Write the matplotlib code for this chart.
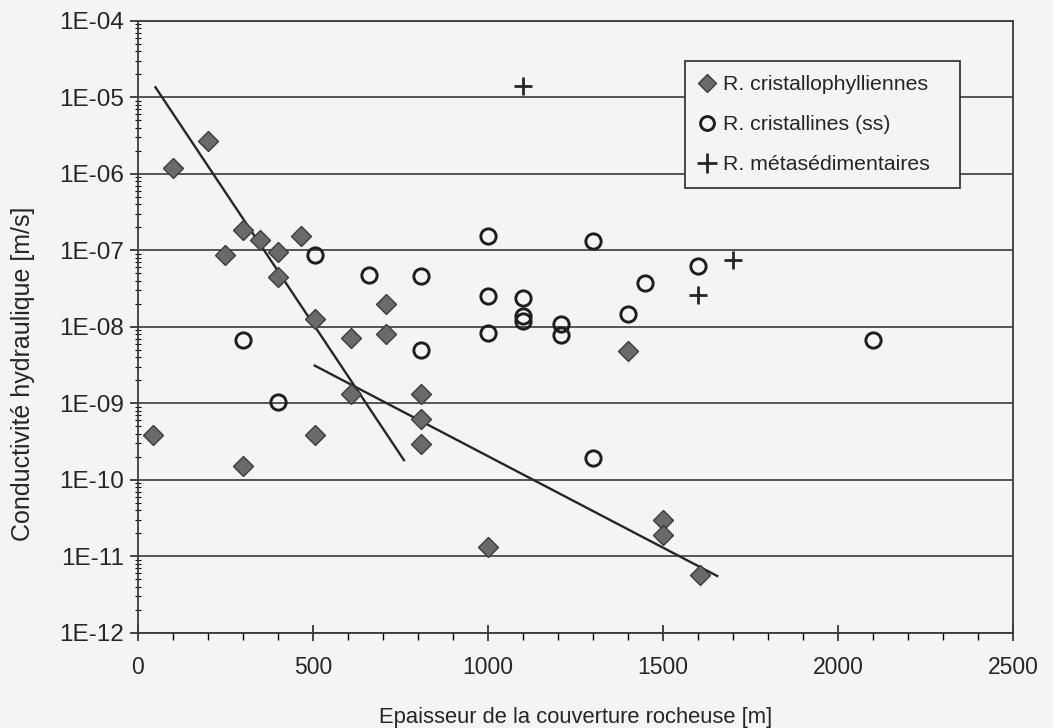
import matplotlib
matplotlib.use("Agg")
import matplotlib.pyplot as plt
import numpy as np
from matplotlib.ticker import FuncFormatter, LogLocator, MultipleLocator, NullFormatter
from matplotlib.lines import Line2D

plt.rcParams['font.family'] = ['Liberation Sans', 'DejaVu Sans']

# R. cristallophylliennes (diamonds)
crist_x = [42, 100, 200, 250, 300, 300, 350, 400, 400, 465, 505, 505,
           610, 610, 710, 710, 810, 810, 810, 1000, 1400, 1500, 1500, 1605]
crist_y = [3.8e-10, 1.2e-6, 2.7e-6, 8.6e-8, 1.85e-7, 1.5e-10, 1.35e-7, 9.5e-8, 4.5e-8, 1.55e-7, 1.25e-8, 3.8e-10,
           7.2e-9, 1.3e-9, 2.0e-8, 8.0e-9, 1.3e-9, 6.3e-10, 2.9e-10, 1.3e-11, 4.8e-9, 3.0e-11, 1.9e-11, 5.7e-12]

# R. cristallines (ss) (open circles)
cristss_x = [300, 400, 505, 660, 810, 810, 1000, 1000, 1000, 1100, 1100, 1100,
             1210, 1210, 1300, 1300, 1400, 1450, 1600, 2100]
cristss_y = [6.8e-9, 1.05e-9, 8.6e-8, 4.8e-8, 4.6e-8, 4.9e-9, 1.55e-7, 2.5e-8, 8.2e-9, 2.4e-8, 1.4e-8, 1.2e-8,
             1.07e-8, 7.8e-9, 1.33e-7, 1.9e-10, 1.48e-8, 3.7e-8, 6.3e-8, 6.7e-9]

# R. metasedimentaires (plus)
meta_x = [1100, 1700, 1600]
meta_y = [1.4e-5, 7.4e-8, 2.6e-8]

# trend lines (end points)
fit1_x = [50, 760]
fit1_y = [1.35e-5, 1.8e-10]
fit2_x = [505, 1655]
fit2_y = [3.1e-9, 5.5e-12]

bg = '#f4f4f2'
ink = '#262626'
fig = plt.figure(figsize=(10.53, 7.28), dpi=100, facecolor=bg)
ax = fig.add_axes([0.131, 0.131, 0.831, 0.8405])
ax.set_facecolor(bg)

ax.set_yscale('log')
ax.set_xlim(0, 2500)
ax.set_ylim(1e-12, 1e-4)

# horizontal grid at each decade
ax.yaxis.set_major_locator(LogLocator(base=10, numticks=20))
ax.yaxis.set_minor_locator(LogLocator(base=10, subs=np.arange(2, 10), numticks=20))
ax.yaxis.set_minor_formatter(NullFormatter())
ax.yaxis.set_major_formatter(FuncFormatter(lambda v, p: "1E{:03d}".format(int(round(np.log10(v))))))
ax.grid(True, axis='y', which='major', color='#555555', lw=1.4)
ax.set_axisbelow(True)

ax.xaxis.set_major_locator(MultipleLocator(500))
ax.xaxis.set_minor_locator(MultipleLocator(100))

ax.plot(fit1_x, fit1_y, color=ink, lw=1.7, zorder=3)
ax.plot(fit2_x, fit2_y, color=ink, lw=1.7, zorder=3)

ax.plot(crist_x, crist_y, ls='none', marker='D', ms=10.5, mfc='#6a6a6a', mec='#3c3c3c', mew=1.0, zorder=4)
ax.plot(cristss_x, cristss_y, ls='none', marker='o', ms=11, mfc='none', mec='#1e1e1e', mew=2.1, zorder=4)
ax.plot(meta_x, meta_y, ls='none', marker='+', ms=13, mec=ink, mew=2.0, zorder=4)

for s in ax.spines.values():
    s.set_color('#3a3a3a')
    s.set_linewidth(1.3)

ax.tick_params(axis='both', which='major', colors=ink)
ax.tick_params(axis='y', which='major', labelsize=17.5, direction='out', length=6, width=1.2, pad=4)
ax.tick_params(axis='y', which='minor', direction='inout', length=4, width=0.8)
ax.tick_params(axis='x', which='major', labelsize=16.5, direction='inout', length=12, width=1.2, pad=11)
ax.tick_params(axis='x', which='minor', direction='out', length=5, width=1.0)

ax.set_xlabel('Epaisseur de la couverture rocheuse [m]', fontsize=15.8, color=ink)
ax.set_ylabel('Conductivité hydraulique [m/s]', fontsize=18, color=ink)
ax.xaxis.set_label_coords(0.5, -0.122)
ax.yaxis.set_label_coords(-0.118, 0.423)

handles = [
    Line2D([], [], ls='none', marker='D', ms=9.5, mfc='#6a6a6a', mec='#3c3c3c'),
    Line2D([], [], ls='none', marker='o', ms=10, mfc='none', mec='#1e1e1e', mew=2.1),
    Line2D([], [], ls='none', marker='+', ms=14, mec=ink, mew=2.0),
]
labels = ['R. cristallophylliennes', 'R. cristallines (ss)', 'R. métasédimentaires']
leg = ax.legend(handles, labels, loc='upper left', bbox_to_anchor=(0.625, 0.72, 0.314, 0.214),
                mode='expand', fontsize=15.3, frameon=True, fancybox=False, framealpha=1,
                facecolor=bg, edgecolor='#3a3a3a', handlelength=0.8, handletextpad=0.35,
                labelspacing=1.0, borderpad=0.65, borderaxespad=0)
leg.get_frame().set_linewidth(1.3)
for t in leg.get_texts():
    t.set_color(ink)

fig.savefig('out.png', dpi=100, facecolor=bg)
